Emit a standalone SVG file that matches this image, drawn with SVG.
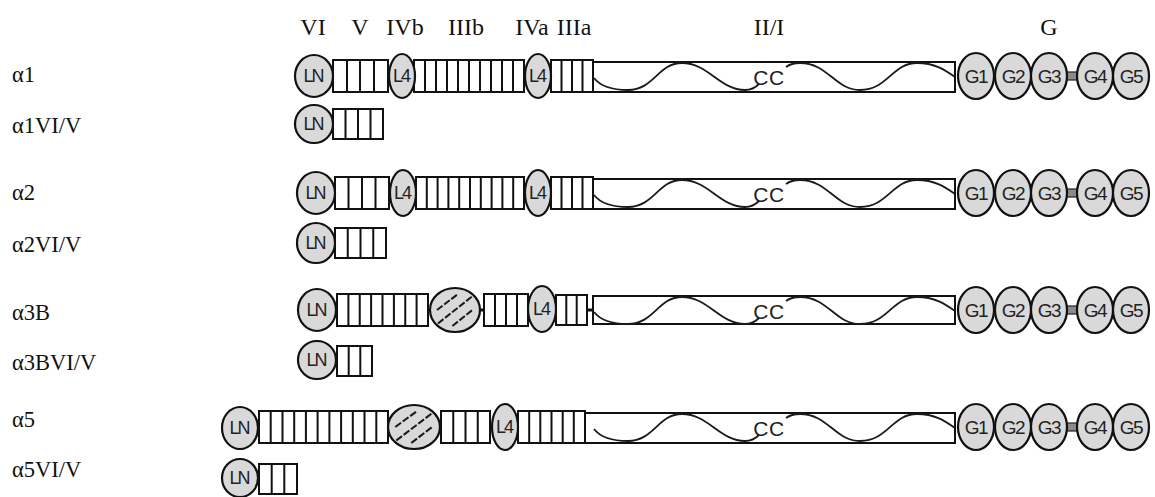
<svg xmlns="http://www.w3.org/2000/svg" width="1155" height="497" viewBox="0 0 1155 497">
<style>
.hdr{font-family:"Liberation Serif","Times New Roman",serif;font-size:24px;fill:#111;text-anchor:middle}
.lbl{font-family:"Liberation Serif","Times New Roman",serif;font-size:22.5px;fill:#111}
.dom{fill:#d9d9d9;stroke:#111;stroke-width:2.2}
.box{fill:#fff;stroke:#111;stroke-width:2}
.cell{fill:none;stroke:#111;stroke-width:2}
.in{font-family:"Liberation Sans",Arial,sans-serif;font-size:18px;fill:#222;text-anchor:middle;letter-spacing:-2px}
.g{font-family:"Liberation Sans",Arial,sans-serif;font-size:19px;fill:#222;text-anchor:middle;letter-spacing:-1.5px}
.wave{fill:none;stroke:#1a1a1a;stroke-width:1.8}
.cc{font-family:"Liberation Sans",Arial,sans-serif;font-size:21px;fill:#222;text-anchor:middle;letter-spacing:0.5px}
.hatch{stroke:#1a1a1a;stroke-width:2;stroke-dasharray:7 2;fill:none}
.link{fill:#8a8a8a;stroke:#222;stroke-width:1.2}
.conn{stroke:#111;stroke-width:3}
</style>
<defs>
<g id="wave">
<path class="wave" d="M594,2 C601,11 612,14 628,14 C654,14 658,-13 682,-13 C708,-13 720,14 745,14 C752,14 756,11 759,8 M786,-9 C790,-12 795,-13 800,-13 C828,-13 835,14 860,14 C888,14 892,-13 917,-13 C935,-13 945,-6 955,1"/>
<text class="cc" x="769" y="9">CC</text>
</g>
<g id="gdom">
<rect class="link" x="1066" y="-4" width="12" height="8"/>
<ellipse class="dom" cx="976" cy="0" rx="18" ry="23"/>
<ellipse class="dom" cx="1013" cy="0" rx="18" ry="23"/>
<ellipse class="dom" cx="1049" cy="0" rx="18" ry="23"/>
<ellipse class="dom" cx="1095" cy="0" rx="18" ry="23"/>
<ellipse class="dom" cx="1131" cy="0" rx="18" ry="23"/>
<text class="g" x="976" y="7">G1</text>
<text class="g" x="1013" y="7">G2</text>
<text class="g" x="1049" y="7">G3</text>
<text class="g" x="1095" y="7">G4</text>
<text class="g" x="1131" y="7">G5</text>
</g>
<g id="hatchell">
<ellipse class="dom" cx="0" cy="0" rx="25" ry="22"/>
<line class="hatch" x1="-18" y1="0" x2="3" y2="-16"/>
<line class="hatch" x1="-17" y1="13.5" x2="17" y2="-13.5"/>
<line class="hatch" x1="-2.6" y1="16" x2="18" y2="-0.5"/>
</g>
</defs>

<g id="header">
<text class="hdr" x="313" y="35">VI</text>
<text class="hdr" x="360" y="35">V</text>
<text class="hdr" x="405" y="35">IVb</text>
<text class="hdr" x="466" y="35">IIIb</text>
<text class="hdr" x="532" y="35">IVa</text>
<text class="hdr" x="574" y="35">IIIa</text>
<text class="hdr" x="769" y="35">II/I</text>
<text class="hdr" x="1049" y="35">G</text>
</g>

<g id="labels">
<text class="lbl" x="12" y="82">α1</text>
<text class="lbl" x="12" y="133">α1VI/V</text>
<text class="lbl" x="12" y="200">α2</text>
<text class="lbl" x="12" y="252">α2VI/V</text>
<text class="lbl" x="12" y="320">α3B</text>
<text class="lbl" x="12" y="370">α3BVI/V</text>
<text class="lbl" x="12" y="427">α5</text>
<text class="lbl" x="12" y="477">α5VI/V</text>
</g>

<g id="connectors">
<line class="conn" x1="480" y1="310" x2="485" y2="310"/>
<line class="conn" x1="587" y1="310" x2="594" y2="310"/>
</g>

<!-- alpha1 -->
<g id="a1">
<rect class="box" x="333" y="60" width="55" height="32"/>
<path class="cell" d="M347,60V92M360,60V92M374,60V92"/>
<rect class="box" x="414" y="60" width="110" height="32"/>
<path class="cell" d="M425,60V92M436,60V92M447,60V92M458,60V92M469,60V92M480,60V92M491,60V92M502,60V92M513,60V92"/>
<rect class="box" x="551" y="60" width="42" height="32"/>
<path class="cell" d="M561.5,60V92M572,60V92M582.5,60V92"/>
<rect class="box" x="593" y="62" width="362" height="30"/>
<use href="#wave" transform="translate(0,76)"/>
<ellipse class="dom" cx="314" cy="76" rx="19" ry="21"/>
<text class="in" x="313" y="82">LN</text>
<ellipse class="dom" cx="402" cy="76" rx="13" ry="22"/>
<text class="in" x="401" y="82">L4</text>
<ellipse class="dom" cx="538" cy="76" rx="13" ry="22"/>
<text class="in" x="537" y="82">L4</text>
<use href="#gdom" transform="translate(0,76)"/>
</g>

<!-- alpha1 VI/V -->
<g id="a1vi">
<rect class="box" x="333" y="109" width="50" height="30"/>
<path class="cell" d="M345.5,109V139M358,109V139M370.5,109V139"/>
<ellipse class="dom" cx="314" cy="124" rx="19" ry="19"/>
<text class="in" x="313" y="130">LN</text>
</g>

<!-- alpha2 -->
<g id="a2">
<rect class="box" x="335" y="177" width="54" height="32"/>
<path class="cell" d="M348.5,177V209M362,177V209M375.5,177V209"/>
<rect class="box" x="416" y="177" width="108" height="32"/>
<path class="cell" d="M426.8,177V209M437.6,177V209M448.4,177V209M459.2,177V209M470,177V209M480.8,177V209M491.6,177V209M502.4,177V209M513.2,177V209"/>
<rect class="box" x="551" y="177" width="42" height="32"/>
<path class="cell" d="M561.5,177V209M572,177V209M582.5,177V209"/>
<rect class="box" x="593" y="179" width="362" height="30"/>
<use href="#wave" transform="translate(0,193)"/>
<ellipse class="dom" cx="316" cy="193" rx="19" ry="21"/>
<text class="in" x="315" y="199">LN</text>
<ellipse class="dom" cx="403" cy="193" rx="13" ry="23"/>
<text class="in" x="402" y="199">L4</text>
<ellipse class="dom" cx="538" cy="193" rx="13" ry="23"/>
<text class="in" x="537" y="199">L4</text>
<use href="#gdom" transform="translate(0,193)"/>
</g>

<!-- alpha2 VI/V -->
<g id="a2vi">
<rect class="box" x="335" y="228" width="51" height="30"/>
<path class="cell" d="M347.75,228V258M360.5,228V258M373.25,228V258"/>
<ellipse class="dom" cx="316" cy="243" rx="19" ry="20"/>
<text class="in" x="315" y="249">LN</text>
</g>

<!-- alpha3B -->
<g id="a3b">
<rect class="box" x="337" y="294" width="91" height="32"/>
<path class="cell" d="M348.4,294V326M359.75,294V326M371.1,294V326M382.5,294V326M393.9,294V326M405.25,294V326M416.6,294V326"/>
<rect class="box" x="484" y="294" width="44" height="32"/>
<path class="cell" d="M495,294V326M506,294V326M517,294V326"/>
<rect class="box" x="556" y="295" width="31" height="30"/>
<path class="cell" d="M566.3,295V325M576.7,295V325"/>
<rect class="box" x="593" y="296" width="362" height="28"/>
<use href="#wave" transform="translate(0,310)"/>
<ellipse class="dom" cx="317" cy="310" rx="19" ry="21"/>
<text class="in" x="316" y="316">LN</text>
<use href="#hatchell" transform="translate(455,310)"/>
<ellipse class="dom" cx="542" cy="309" rx="14" ry="23"/>
<text class="in" x="541" y="315">L4</text>
<use href="#gdom" transform="translate(0,310)"/>
</g>

<!-- alpha3B VI/V -->
<g id="a3bvi">
<rect class="box" x="337" y="346" width="35" height="30"/>
<path class="cell" d="M348.7,346V376M360.3,346V376"/>
<ellipse class="dom" cx="317" cy="360" rx="19" ry="19"/>
<text class="in" x="316" y="366">LN</text>
</g>

<!-- alpha5 -->
<g id="a5">
<rect class="box" x="259" y="411" width="129" height="32"/>
<path class="cell" d="M270.7,411V443M282.5,411V443M294.2,411V443M305.9,411V443M317.6,411V443M329.4,411V443M341.1,411V443M352.8,411V443M364.5,411V443M376.3,411V443"/>
<rect class="box" x="441" y="411" width="49" height="32"/>
<path class="cell" d="M453.25,411V443M465.5,411V443M477.75,411V443"/>
<rect class="box" x="518" y="411" width="67" height="32"/>
<path class="cell" d="M529.2,411V443M540.3,411V443M551.5,411V443M562.7,411V443M573.8,411V443"/>
<rect class="box" x="585" y="413" width="370" height="30"/>
<use href="#wave" transform="translate(0,427)"/>
<ellipse class="dom" cx="240" cy="428" rx="18" ry="21"/>
<text class="in" x="239" y="434">LN</text>
<use href="#hatchell" transform="translate(414,427) scale(1.04,1)"/>
<ellipse class="dom" cx="505" cy="427" rx="13" ry="23"/>
<text class="in" x="504" y="433">L4</text>
<use href="#gdom" transform="translate(0,427)"/>
</g>

<!-- alpha5 VI/V -->
<g id="a5vi">
<rect class="box" x="259" y="464" width="38" height="30"/>
<path class="cell" d="M271.7,464V494M284.3,464V494"/>
<ellipse class="dom" cx="240" cy="478" rx="18" ry="19"/>
<text class="in" x="239" y="484">LN</text>
</g>
</svg>
